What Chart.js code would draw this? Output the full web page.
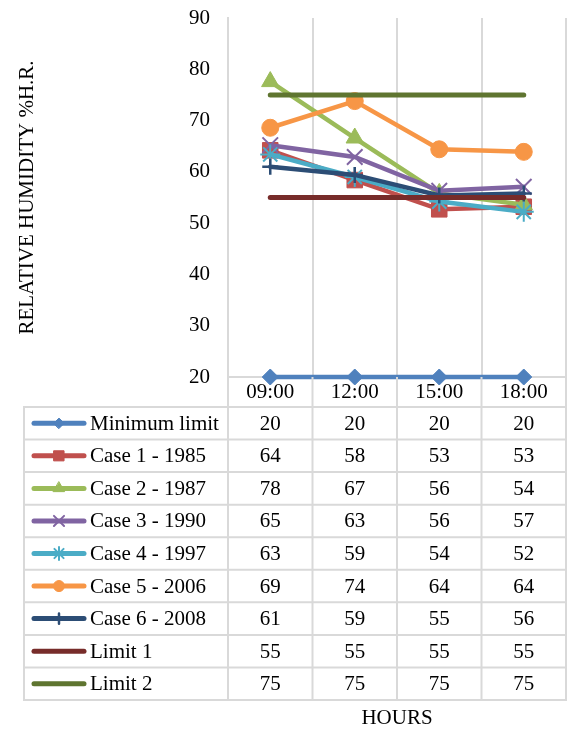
<!DOCTYPE html>
<html>
<head>
<meta charset="utf-8">
<script src="https://cdn.jsdelivr.net/npm/chart.js@4/dist/chart.umd.min.js"></script>
<style>
html, body { margin: 0; padding: 0; background: #fff; }
canvas { display: block; }
</style>
</head>
<body>
<canvas id="humidity" width="569" height="729"></canvas>
<script>
const hours = ["09:00", "12:00", "15:00", "18:00"]
const yTicks = { min: 20, max: 90, step: 10 }

const minimumLimit = [20, 20, 20, 20]
const case1985 = [64.2, 58.4, 52.7, 53.2]
const case1987 = [77.6, 66.6, 55.8, 53.6]
const case1990 = [65.2, 62.9, 56.3, 57.1]
const case1997 = [63.4, 59.0, 54.2, 52.2]
const case2006 = [68.6, 73.8, 64.4, 63.9]
const case2008 = [61.0, 59.4, 55.4, 55.8]
const limit1 = [55, 55, 55, 55]
const limit2 = [75, 75, 75, 75]

const font = "'Liberation Serif', 'Times New Roman', serif"
const gridColor = "#d9d9d9"

const series = [
    { label: 'Minimum limit', data: minimumLimit, color: '#4f81bd', style: 'rectRot', r: 8, bw: 1 },
    { label: 'Case 1 - 1985', data: case1985, color: '#c0504d', style: 'rect', r: 11, bw: 1 },
    { label: 'Case 2 - 1987', data: case1987, color: '#9bbb59', style: 'triangle', r: 10, bw: 1 },
    { label: 'Case 3 - 1990', data: case1990, color: '#8064a2', style: 'crossRot', r: 11, bw: 2 },
    { label: 'Case 4 - 1997', data: case1997, color: '#4bacc6', style: 'star', r: 10, bw: 2 },
    { label: 'Case 5 - 2006', data: case2006, color: '#f79646', style: 'circle', r: 8.5, bw: 1 },
    { label: 'Case 6 - 2008', data: case2008, color: '#2c4d75', style: 'cross', r: 8, bw: 2.5 },
    { label: 'Limit 1', data: limit1, color: '#772c2a', style: false, r: 0, bw: 0 },
    { label: 'Limit 2', data: limit2, color: '#5f7530', style: false, r: 0, bw: 0 }
]

// data table under the plot, drawn on the x scale columns
const tableLeft = 24
const tableTop = 407
const tableBottom = 700

const dataTable = {
    id: 'dataTable',
    afterDraw(chart) {
        const ctx = chart.ctx
        const area = chart.chartArea
        const xs = chart.scales.x
        const step = (area.right - area.left) / hours.length
        const bounds = hours.map((h, i) => xs.getPixelForValue(i) - step / 2)
        bounds.push(area.right)
        const rowH = (tableBottom - tableTop) / series.length

        ctx.save()
        ctx.strokeStyle = gridColor
        ctx.lineWidth = 2
        ctx.beginPath()
        bounds.forEach(b => { ctx.moveTo(b, area.bottom); ctx.lineTo(b, tableBottom) })
        ctx.moveTo(tableLeft, tableTop); ctx.lineTo(tableLeft, tableBottom)
        for (let i = 0; i <= series.length; i++) {
            const y = tableTop + i * rowH
            ctx.moveTo(tableLeft - 1, y); ctx.lineTo(area.right + 1, y)
        }
        ctx.stroke()

        ctx.font = "21px " + font
        ctx.fillStyle = '#000'
        ctx.textBaseline = 'middle'
        series.forEach((s, r) => {
            const cy = tableTop + (r + 0.5) * rowH
            ctx.textAlign = 'left'
            ctx.fillText(s.label, 90, cy + 1)
            ctx.textAlign = 'center'
            s.data.forEach((v, i) => ctx.fillText(Math.round(v), xs.getPixelForValue(i), cy + 1))

            ctx.strokeStyle = s.color
            ctx.fillStyle = s.color
            ctx.lineWidth = 5
            ctx.lineCap = 'round'
            ctx.beginPath()
            ctx.moveTo(34, cy); ctx.lineTo(84, cy)
            ctx.stroke()
            if (s.style) {
                ctx.lineWidth = s.bw
                Chart.helpers.drawPoint(ctx, { pointStyle: s.style, radius: s.r * 0.65, borderWidth: s.bw, rotation: 0 }, 59, cy)
            }
            ctx.fillStyle = '#000'
        })

        ctx.textAlign = 'center'
        ctx.fillText('HOURS', (area.left + area.right) / 2, 718)
        ctx.restore()
    }
}

new Chart(document.getElementById("humidity"), {
    type: 'line',
    data: {
        labels: hours,
        datasets: series.map((s, i) => ({
            label: s.label,
            data: s.data,
            borderColor: s.color,
            backgroundColor: s.color,
            borderWidth: s.style ? 4.5 : 5,
            borderCapStyle: 'round',
            pointStyle: s.style,
            pointRadius: s.r,
            pointBorderWidth: s.bw,
            pointBorderColor: s.color,
            pointBackgroundColor: s.color,
            tension: 0,
            clip: false,
            order: series.length - i
        }))
    },
    options: {
        responsive: false,
        animation: false,
        devicePixelRatio: 1,
        events: [],
        layout: { autoPadding: false, padding: { left: 0, right: 3, top: 18, bottom: 729 - tableTop } },
        plugins: { legend: { display: false }, tooltip: { enabled: false } },
        scales: {
            x: {
                offset: true,
                grid: { display: true, offset: true, color: gridColor, lineWidth: 2, drawTicks: false },
                border: { display: true, color: gridColor, width: 2 },
                ticks: { color: '#000', font: { family: font, size: 21 }, padding: 3, maxRotation: 0 },
                afterFit(scale) {
                    scale.height = 30
                    scale.paddingLeft = 0
                    scale.paddingRight = 0
                }
            },
            y: {
                min: yTicks.min,
                max: yTicks.max,
                grid: { display: false, drawTicks: false },
                border: { display: true, color: gridColor, width: 2 },
                ticks: { stepSize: yTicks.step, color: '#000', font: { family: font, size: 21 }, padding: 18 },
                title: {
                    display: true,
                    text: 'RELATIVE HUMIDITY %H.R.',
                    color: '#000',
                    font: { family: font, size: 21 },
                    padding: { top: 15, bottom: 0 }
                },
                afterFit(scale) {
                    scale.width = 228
                    scale.paddingTop = 0
                    scale.paddingBottom = 0
                }
            }
        }
    },
    plugins: [dataTable]
})
</script>
</body>
</html>
